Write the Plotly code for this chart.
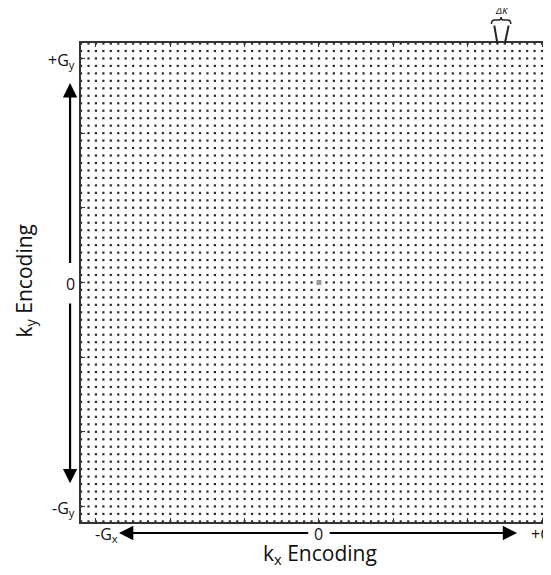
import numpy as np
import plotly.graph_objects as go

# k-space sample grid (units of delta-k)
kx_values = list(range(-32, 33))
ky_values = list(range(-32, 33))
center_point = [0, 0]

# ticks (every 10 samples), labels at -G, 0, +G
x_tickvals = [-30, -20, -10, 0, 10, 20, 30]
y_tickvals = [-30, -20, -10, 0, 10, 20, 30]
x_label_vals = [-30, 0, 30]
x_label_text = ["-G<sub>x</sub>", "0", "+G<sub>x</sub>"]
y_label_vals = [30, 0, -30]
y_label_text = ["+G<sub>y</sub>", "0", "-G<sub>y</sub>"]

# encoding arrows: (head, tail) in sample units along the axis
kx_arrows = [(-26.9, -1.35), (26.65, 1.35)]
ky_arrows = [(26.7, 2.4), (-26.9, -2.6)]
# delta-k indicator between neighbouring samples
dk_samples = [24, 25]

X_RANGE = [-32.01, 30.94]
Y_RANGE = [-32.08, 32.07]

W, H = 543, 567            # page adds an 8px body margin
ML, MT, MB = 73, 35, 53
PW = W - ML
PH = H - MT - MB

def xp(v):   # data -> paper
    return (v - X_RANGE[0]) / (X_RANGE[1] - X_RANGE[0])

def yp(v):
    return (v - Y_RANGE[0]) / (Y_RANGE[1] - Y_RANGE[0])

sx = PW / (X_RANGE[1] - X_RANGE[0])   # px per sample
sy = PH / (Y_RANGE[1] - Y_RANGE[0])

KX, KY = np.meshgrid(kx_values, ky_values)

fig = go.Figure()
fig.add_trace(go.Scatter(
    x=KX.ravel(), y=KY.ravel(), mode="markers",
    marker=dict(symbol="square", size=2.2, color="#2a2a2a", line=dict(width=0)),
    cliponaxis=False, hoverinfo="skip", showlegend=False))
fig.add_trace(go.Scatter(
    x=[center_point[0]], y=[center_point[1]], mode="markers",
    marker=dict(symbol="square", size=5, color="#9a9a9a", line=dict(width=0)),
    hoverinfo="skip", showlegend=False))

FONT = "Open Sans, DejaVu Sans, sans-serif"

axis_common = dict(showgrid=False, zeroline=False, showline=True, linecolor="#333",
                   linewidth=1.5, mirror="ticks", ticks="inside", ticklen=4,
                   tickcolor="#333", showticklabels=False, fixedrange=True)
fig.update_layout(
    width=W, height=H,
    margin=dict(l=ML, r=0, t=MT, b=MB, pad=0),
    paper_bgcolor="white", plot_bgcolor="white",
    font=dict(family=FONT, color="#111"),
    xaxis=dict(range=X_RANGE, tickvals=x_tickvals, **axis_common),
    yaxis=dict(range=Y_RANGE, tickvals=y_tickvals, **axis_common),
)

ann = []
LBL = dict(size=16, family=FONT, color="#111")
row_y = -33.55   # row of kx arrow/labels (sample units below axis)
col_x = -33.48   # column of ky arrow/labels

for head, tail in kx_arrows:
    ann.append(dict(x=xp(head), y=yp(row_y), xref="paper", yref="paper",
                    ax=(tail - head) * sx, ay=0, text="", showarrow=True,
                    arrowhead=2, arrowsize=1.3, arrowwidth=2.2, arrowcolor="#000",
                    standoff=0, startstandoff=0))
for head, tail in ky_arrows:
    ann.append(dict(x=xp(col_x), y=yp(head), xref="paper", yref="paper",
                    ax=0, ay=-(tail - head) * sy, text="", showarrow=True,
                    arrowhead=2, arrowsize=1.3, arrowwidth=2.2, arrowcolor="#000",
                    standoff=0, startstandoff=0))

# x labels
x_label_pos = [-30.4, 0, 28.3]
for v, t in zip(x_label_pos, x_label_text):
    xa = "center" if v == 0 else "left"
    ann.append(dict(x=xp(v), y=yp(row_y - 0.2), xref="paper", yref="paper",
                    text=t, showarrow=False, xanchor=xa, yanchor="middle", font=LBL))
# y labels
for v, t in zip(y_label_vals, y_label_text):
    ann.append(dict(x=xp(-32.6), y=yp(v - 0.25), xref="paper", yref="paper",
                    text=t, showarrow=False, xanchor="right", yanchor="middle", font=LBL))

# delta-k marker lines and label
for k, off in zip(dk_samples, [-0.45, 0.55]):
    ann.append(dict(x=xp(k), y=yp(32.0), xref="paper", yref="paper",
                    ax=off * sx, ay=-2.6 * sy, text="", showarrow=True, arrowhead=0,
                    arrowwidth=2, arrowcolor="#222", standoff=0, startstandoff=0))
ann.append(dict(x=xp(sum(dk_samples) / 2), y=yp(36.5), xref="paper", yref="paper",
                text="<i>Δk</i>", showarrow=False, xanchor="center", yanchor="middle",
                font=dict(size=11, family=FONT, color="#222")))

# axis titles
ann.append(dict(x=xp(0.1), y=yp(-36.3), xref="paper", yref="paper",
                text="k<sub>x</sub> Encoding", showarrow=False,
                xanchor="center", yanchor="middle",
                font=dict(size=21, family=FONT, color="#111")))
ann.append(dict(x=xp(-39.6), y=yp(0.2), xref="paper", yref="paper",
                text="k<sub>y</sub> Encoding", showarrow=False, textangle=-90,
                xanchor="center", yanchor="middle",
                font=dict(size=21, family=FONT, color="#111")))
fig.update_layout(annotations=ann)

# curly brace over delta-k
a, b = dk_samples[0] - 0.8, dk_samples[1] + 0.8
m = (a + b) / 2
y0, y1, y2 = 34.6, 35.15, 35.55
brace = (f"M {xp(a)} {yp(y0)} Q {xp(a)} {yp(y1)} {xp(a + 0.4)} {yp(y1)} "
         f"L {xp(m - 0.3)} {yp(y1)} Q {xp(m)} {yp(y1)} {xp(m)} {yp(y2)} "
         f"Q {xp(m)} {yp(y1)} {xp(m + 0.3)} {yp(y1)} L {xp(b - 0.4)} {yp(y1)} "
         f"Q {xp(b)} {yp(y1)} {xp(b)} {yp(y0)}")
fig.add_shape(type="path", path=brace, xref="paper", yref="paper",
              line=dict(color="#222", width=1.5))

fig.write_html("out.html")
